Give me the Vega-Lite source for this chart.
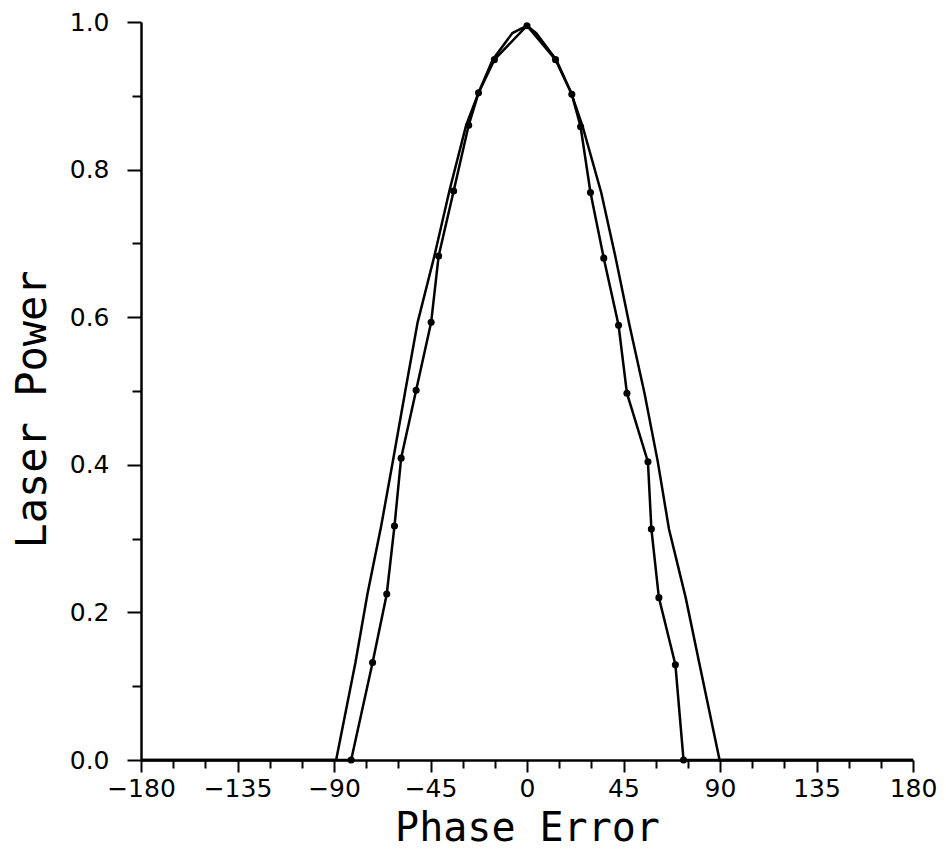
{
  "$schema": "https://vega.github.io/schema/vega-lite/v6.json",
  "width": 772,
  "height": 738,
  "autosize": {"type": "none"},
  "padding": {"left": 141, "top": 22, "right": 33, "bottom": 91},
  "background": "white",
  "config": {
    "view": {"stroke": null},
    "axis": {
      "domainColor": "black",
      "tickColor": "black",
      "labelColor": "black",
      "titleColor": "black",
      "labelFont": "DejaVu Sans",
      "titleFont": "DejaVu Sans Mono",
      "grid": false,
      "domainWidth": 2.5,
      "tickWidth": 2,
      "labelFontWeight": "normal",
      "titleFontWeight": "normal"
    }
  },
  "data": {
    "values": [
      {"phase": -180, "power": 0, "series": "model"},
      {"phase": -89.0, "power": 0, "series": "model"},
      {"phase": -80.0, "power": 0.132, "series": "model"},
      {"phase": -74.4, "power": 0.225, "series": "model"},
      {"phase": -68.0, "power": 0.317, "series": "model"},
      {"phase": -62.3, "power": 0.409, "series": "model"},
      {"phase": -56.7, "power": 0.501, "series": "model"},
      {"phase": -51.0, "power": 0.593, "series": "model"},
      {"phase": -43.2, "power": 0.683, "series": "model"},
      {"phase": -36.2, "power": 0.771, "series": "model"},
      {"phase": -28.4, "power": 0.86, "series": "model"},
      {"phase": -22.5, "power": 0.905, "series": "model"},
      {"phase": -16.0, "power": 0.949, "series": "model"},
      {"phase": -6.8, "power": 0.985, "series": "model"},
      {"phase": 0, "power": 0.995, "series": "model"},
      {"phase": 4.3, "power": 0.985, "series": "model"},
      {"phase": 13.6, "power": 0.949, "series": "model"},
      {"phase": 20.5, "power": 0.905, "series": "model"},
      {"phase": 26.0, "power": 0.858, "series": "model"},
      {"phase": 34.6, "power": 0.769, "series": "model"},
      {"phase": 41.3, "power": 0.681, "series": "model"},
      {"phase": 47.8, "power": 0.589, "series": "model"},
      {"phase": 54.8, "power": 0.497, "series": "model"},
      {"phase": 61.0, "power": 0.404, "series": "model"},
      {"phase": 66.2, "power": 0.313, "series": "model"},
      {"phase": 74.0, "power": 0.22, "series": "model"},
      {"phase": 80.5, "power": 0.129, "series": "model"},
      {"phase": 89.8, "power": 0, "series": "model"},
      {"phase": 180, "power": 0, "series": "model"},
      {"phase": -180, "power": 0, "series": "measured"},
      {"phase": -82.0, "power": 0, "series": "measured"},
      {"phase": -72.0, "power": 0.132, "series": "measured"},
      {"phase": -65.4, "power": 0.225, "series": "measured"},
      {"phase": -61.8, "power": 0.317, "series": "measured"},
      {"phase": -58.7, "power": 0.409, "series": "measured"},
      {"phase": -51.7, "power": 0.501, "series": "measured"},
      {"phase": -44.7, "power": 0.593, "series": "measured"},
      {"phase": -41.2, "power": 0.683, "series": "measured"},
      {"phase": -34.2, "power": 0.771, "series": "measured"},
      {"phase": -27.2, "power": 0.86, "series": "measured"},
      {"phase": -22.6, "power": 0.904, "series": "measured"},
      {"phase": -15.2, "power": 0.949, "series": "measured"},
      {"phase": 0, "power": 0.995, "series": "measured"},
      {"phase": 13.3, "power": 0.949, "series": "measured"},
      {"phase": 20.9, "power": 0.902, "series": "measured"},
      {"phase": 25.0, "power": 0.858, "series": "measured"},
      {"phase": 29.6, "power": 0.769, "series": "measured"},
      {"phase": 35.8, "power": 0.68, "series": "measured"},
      {"phase": 42.7, "power": 0.589, "series": "measured"},
      {"phase": 46.6, "power": 0.497, "series": "measured"},
      {"phase": 56.4, "power": 0.404, "series": "measured"},
      {"phase": 58.0, "power": 0.313, "series": "measured"},
      {"phase": 61.5, "power": 0.22, "series": "measured"},
      {"phase": 69.2, "power": 0.129, "series": "measured"},
      {"phase": 73.0, "power": 0, "series": "measured"},
      {"phase": 180, "power": 0, "series": "measured"}
    ]
  },
  "encoding": {
    "x": {
      "field": "phase",
      "type": "quantitative",
      "scale": {"domain": [-180, 180], "nice": false},
      "axis": {
        "values": [-180, -165, -150, -135, -120, -105, -90, -75, -60, -45, -30, -15, 0, 15, 30, 45, 60, 75, 90, 105, 120, 135, 150, 165, 180],
        "tickSize": {"condition": {"test": "datum.value % 45 === 0", "value": 12}, "value": 8},
        "labelExpr": "datum.value % 45 === 0 ? datum.label : ''",
        "labelFontSize": 25,
        "labelPadding": 4,
        "labelOverlap": false,
        "labelFlush": false,
        "labelBound": false,
        "title": "Phase Error",
        "titleFontSize": 40,
        "titleBaseline": "alphabetic",
        "titleY": 80
      }
    },
    "y": {
      "field": "power",
      "type": "quantitative",
      "scale": {"domain": [0, 1], "nice": false},
      "axis": {
        "values": [0, 0.1, 0.2, 0.3, 0.4, 0.5, 0.6, 0.7, 0.8, 0.9, 1.0],
        "tickSize": {"condition": {"test": "round(datum.value * 10) % 2 === 0", "value": 14}, "value": 9},
        "labelExpr": "round(datum.value * 10) % 2 === 0 ? datum.label : ''",
        "format": ".1f",
        "labelFontSize": 25,
        "labelPadding": 18,
        "labelOverlap": false,
        "labelFlush": false,
        "title": "Laser Power",
        "titleFontSize": 42,
        "titleAlign": "center",
        "titleBaseline": "alphabetic",
        "titleX": -96,
        "titleY": 387
      }
    }
  },
  "layer": [
    {
      "mark": {"type": "line", "color": "black", "strokeWidth": 2.5},
      "encoding": {
        "detail": {"field": "series"}
      }
    },
    {
      "transform": [{"filter": "datum.series === 'measured' && abs(datum.phase) < 179"}],
      "mark": {"type": "point", "filled": true, "color": "black", "size": 50, "opacity": 1}
    }
  ]
}
